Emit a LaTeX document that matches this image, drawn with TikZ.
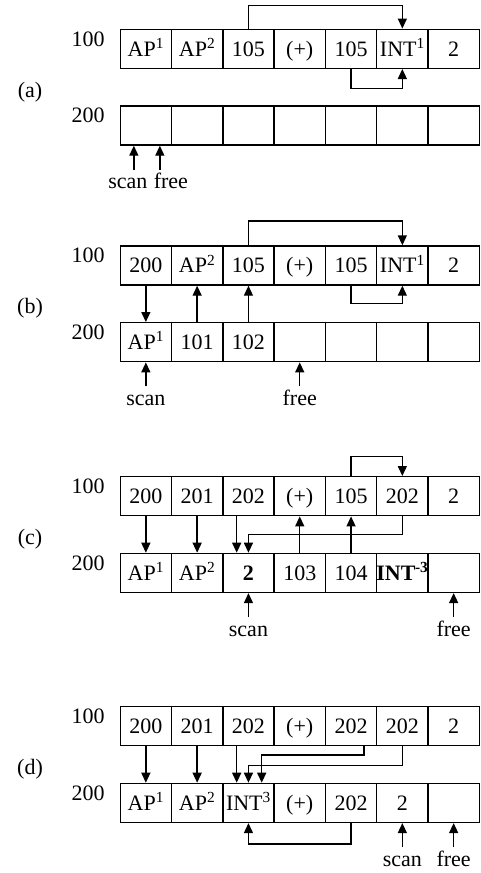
\documentclass[tikz,border=0pt]{standalone}
\usepackage{fontspec}
\setmainfont{Liberation Serif}
\usetikzlibrary{arrows.meta,positioning}
\tikzset{
  cell/.style={draw,line width=1.4pt,minimum width=51.3pt,minimum height=39pt,inner sep=0pt,text height=18pt,text depth=3.5pt},
  ptr/.style={inner sep=0pt,outer sep=6pt,text height=13pt,text depth=4pt},
  lnk/.style={line width=1.4pt},
  arr/.style={lnk,-{Triangle[width=9pt,length=10pt]}},
}
\begin{document}
\begin{tikzpicture}[x=1pt,y=1pt,font=\fontsize{22}{26}\selectfont]
\useasboundingbox (0,0) rectangle (480,-873);
\pgfmathsetmacro{\kxstep}{51.3}
\pgfmathsetmacro{\kxzero}{120.2}
\pgfmathsetmacro{\krow}{76.7}
% (a)
\pgfmathsetmacro{\kya}{-48.8}
\node (alb) at (30,\kya-43) {(a)};
\node (a100lb) at (88,\kya+10) {100};
\node (a200lb) at (88,\kya-\krow+10) {200};
\foreach \kx/\xlb in {1/{AP\textsuperscript{1}},2/{AP\textsuperscript{2}},3/{105},4/{(+)},5/{105},6/{INT\textsuperscript{1}},7/{2}}{\node[cell] (a100-\kx) at ({\kxzero+(\kx-0.5)*\kxstep},\kya) {\xlb};}
\foreach \kx/\xlb in {1/{},2/{},3/{},4/{},5/{},6/{},7/{}}{\node[cell] (a200-\kx) at ({\kxzero+(\kx-0.5)*\kxstep},\kya-\krow) {\xlb};}
\draw[arr](a100-3.north)--++(0,23.3)-|(a100-6.north);
\draw[arr](a100-5.south)--++(0,-19.4)-|(a100-6.south);
\node[ptr,below=24pt of a200-1.south,xshift=-18pt] (ascan) {scan};
\node[ptr,below=24pt of a200-1.south,xshift=25pt] (afree) {free};
\draw[arr]([xshift=6pt]ascan.north)--([xshift=6pt]ascan.north |- a200-1.south);
\draw[arr]([xshift=-11pt]afree.north)--([xshift=-11pt]afree.north |- a200-1.south);
% (b)
\pgfmathsetmacro{\kyb}{-265.5}
\node (blb) at (30,\kyb-43) {(b)};
\node (b100lb) at (88,\kyb+10) {100};
\node (b200lb) at (88,\kyb-\krow+10) {200};
\foreach \kx/\xlb in {1/{200},2/{AP\textsuperscript{2}},3/{105},4/{(+)},5/{105},6/{INT\textsuperscript{1}},7/{2}}{\node[cell] (b100-\kx) at ({\kxzero+(\kx-0.5)*\kxstep},\kyb) {\xlb};}
\foreach \kx/\xlb in {1/{AP\textsuperscript{1}},2/{101},3/{102},4/{},5/{},6/{},7/{}}{\node[cell] (b200-\kx) at ({\kxzero+(\kx-0.5)*\kxstep},\kyb-\krow) {\xlb};}
\draw[arr](b100-3.north)--++(0,24.3)-|(b100-6.north);
\draw[arr](b100-5.south)--++(0,-18)-|(b100-6.south);
\draw[arr](b100-1)--(b200-1);
\draw[arr](b200-2)--(b100-2);
\draw[arr](b200-3)--(b100-3);
\node[ptr,below=24pt of b200-1.south] (bscan) {scan};
\node[ptr,below=24pt of b200-4.south] (bfree) {free};
\draw[arr](bscan)--(b200-1);
\draw[arr](bfree)--(b200-4);
% (c)
\pgfmathsetmacro{\kyc}{-496.2}
\node (clb) at (30,\kyc-43) {(c)};
\node (c100lb) at (88,\kyc+10) {100};
\node (c200lb) at (88,\kyc-\krow+10) {200};
\foreach \kx/\xlb in {1/{200},2/{201},3/{202},4/{(+)},5/{105},6/{202},7/{2}}{\node[cell] (c100-\kx) at ({\kxzero+(\kx-0.5)*\kxstep},\kyc) {\xlb};}
\foreach \kx/\xlb in {1/{AP\textsuperscript{1}},2/{AP\textsuperscript{2}},3/{\textbf{2}},4/{103},5/{104},6/{\textbf{INT\kern-.5pt\textsuperscript{-3}}},7/{}}{\node[cell] (c200-\kx) at ({\kxzero+(\kx-0.5)*\kxstep},\kyc-\krow) {\xlb};}
\draw[arr](c100-5.north)--++(0,19.4)-|(c100-6.north);
\draw[arr](c100-1)--(c200-1);
\draw[arr](c100-2)--(c200-2);
\draw[arr]([xshift=-11.75pt]c100-3.south)--([xshift=-11.75pt]c100-3.south |- c200-3.north);
\draw[arr](c100-6.south)--++(0,-18.3)-|(c200-3.north);
\draw[arr](c200-4)--(c100-4);
\draw[arr](c200-5)--(c100-5);
\node[ptr,below=24pt of c200-3.south] (cscan) {scan};
\node[ptr,below=24pt of c200-7.south] (cfree) {free};
\draw[arr](cscan)--(c200-3);
\draw[arr](cfree)--(c200-7);
% (d)
\pgfmathsetmacro{\kyd}{-726.2}
\node (dlb) at (30,\kyd-43) {(d)};
\node (d100lb) at (88,\kyd+10) {100};
\node (d200lb) at (88,\kyd-\krow+10) {200};
\foreach \kx/\xlb in {1/{200},2/{201},3/{202},4/{(+)},5/{202},6/{202},7/{2}}{\node[cell] (d100-\kx) at ({\kxzero+(\kx-0.5)*\kxstep},\kyd) {\xlb};}
\foreach \kx/\xlb in {1/{AP\textsuperscript{1}},2/{AP\textsuperscript{2}},3/{INT\textsuperscript{3}},4/{(+)},5/{202},6/{2},7/{}}{\node[cell] (d200-\kx) at ({\kxzero+(\kx-0.5)*\kxstep},\kyd-\krow) {\xlb};}
\draw[arr](d100-1)--(d200-1);
\draw[arr](d100-2)--(d200-2);
\draw[arr]([xshift=-11.75pt]d100-3.south)--([xshift=-11.75pt]d100-3.south |- d200-3.north);
\draw[arr]([xshift=13pt]d100-5.south)--++(0,-8.6)-|([xshift=13.25pt]d200-3.north);
\draw[arr](d100-6.south)--++(0,-19.3)-|(d200-3.north);
\draw[arr](d200-5.south)--++(0,-21)-|(d200-3.south);
\node[ptr,below=24pt of d200-6.south] (dscan) {scan};
\node[ptr,below=24pt of d200-7.south] (dfree) {free};
\draw[arr](dscan)--(d200-6);
\draw[arr](dfree)--(d200-7);
\end{tikzpicture}
\end{document}
